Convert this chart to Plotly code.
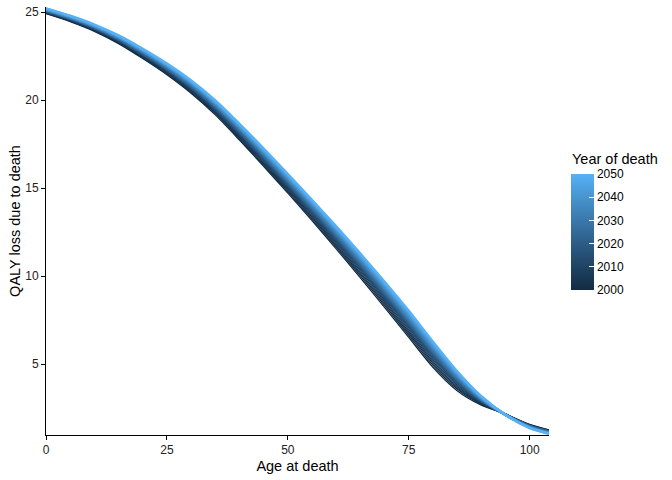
import plotly.graph_objects as go
from plotly.colors import sample_colorscale

# ---------------- data ----------------
ages = [0, 5, 10, 15, 20, 25, 30, 35, 40, 45, 50, 55, 60, 65, 70, 75, 80, 85, 90, 95, 100, 104]

qaly_2000 = [24.92, 24.47, 23.92, 23.22, 22.37, 21.45, 20.40, 19.17, 17.74, 16.25, 14.72, 13.16, 11.56, 9.91, 8.23, 6.53, 4.83, 3.50, 2.68, 2.17, 1.58, 1.27]
qaly_2002 = [24.94, 24.50, 23.95, 23.26, 22.41, 21.50, 20.46, 19.24, 17.81, 16.33, 14.81, 13.25, 11.66, 10.02, 8.35, 6.65, 4.95, 3.59, 2.72, 2.17, 1.56, 1.25]
qaly_2004 = [24.97, 24.52, 23.98, 23.29, 22.45, 21.54, 20.51, 19.29, 17.88, 16.40, 14.88, 13.34, 11.75, 10.12, 8.45, 6.76, 5.05, 3.67, 2.76, 2.16, 1.55, 1.24]
qaly_2006 = [24.99, 24.54, 24.00, 23.32, 22.49, 21.59, 20.56, 19.35, 17.94, 16.47, 14.96, 13.42, 11.84, 10.21, 8.55, 6.86, 5.15, 3.74, 2.79, 2.16, 1.54, 1.22]
qaly_2008 = [25.01, 24.57, 24.03, 23.35, 22.53, 21.63, 20.61, 19.41, 18.01, 16.54, 15.03, 13.50, 11.93, 10.31, 8.65, 6.97, 5.25, 3.82, 2.83, 2.16, 1.52, 1.21]
qaly_2010 = [25.03, 24.59, 24.06, 23.39, 22.57, 21.68, 20.66, 19.47, 18.07, 16.61, 15.11, 13.58, 12.02, 10.40, 8.75, 7.07, 5.35, 3.90, 2.86, 2.15, 1.51, 1.19]
qaly_2015 = [25.05, 24.62, 24.09, 23.42, 22.61, 21.73, 20.72, 19.53, 18.15, 16.69, 15.20, 13.68, 12.12, 10.51, 8.87, 7.19, 5.47, 3.98, 2.90, 2.15, 1.49, 1.17]
qaly_2020 = [25.08, 24.64, 24.12, 23.46, 22.66, 21.78, 20.77, 19.60, 18.22, 16.77, 15.28, 13.77, 12.22, 10.62, 8.98, 7.31, 5.58, 4.07, 2.94, 2.14, 1.48, 1.16]
qaly_2025 = [25.10, 24.67, 24.15, 23.50, 22.70, 21.83, 20.83, 19.66, 18.29, 16.85, 15.37, 13.86, 12.32, 10.73, 9.10, 7.43, 5.70, 4.16, 2.98, 2.14, 1.46, 1.14]
qaly_2030 = [25.12, 24.69, 24.18, 23.53, 22.74, 21.88, 20.89, 19.73, 18.37, 16.93, 15.45, 13.96, 12.42, 10.84, 9.22, 7.55, 5.82, 4.25, 3.02, 2.14, 1.44, 1.12]
qaly_2035 = [25.15, 24.72, 24.21, 23.57, 22.79, 21.93, 20.95, 19.79, 18.44, 17.01, 15.54, 14.05, 12.53, 10.95, 9.33, 7.67, 5.93, 4.34, 3.06, 2.13, 1.43, 1.10]
qaly_2040 = [25.17, 24.75, 24.24, 23.61, 22.83, 21.98, 21.01, 19.86, 18.51, 17.09, 15.63, 14.14, 12.63, 11.06, 9.45, 7.79, 6.05, 4.42, 3.10, 2.13, 1.41, 1.09]
qaly_2045 = [25.20, 24.77, 24.27, 23.64, 22.88, 22.03, 21.06, 19.92, 18.59, 17.17, 15.71, 14.24, 12.73, 11.17, 9.56, 7.91, 6.16, 4.51, 3.14, 2.12, 1.40, 1.07]
qaly_2050 = [25.22, 24.80, 24.30, 23.68, 22.92, 22.08, 21.12, 19.99, 18.66, 17.25, 15.80, 14.33, 12.83, 11.28, 9.68, 8.03, 6.28, 4.60, 3.18, 2.12, 1.38, 1.05]

years = [2000, 2002, 2004, 2006, 2008, 2010, 2015, 2020, 2025, 2030, 2035, 2040, 2045, 2050]
series = [qaly_2000, qaly_2002, qaly_2004, qaly_2006, qaly_2008, qaly_2010, qaly_2015,
          qaly_2020, qaly_2025, qaly_2030, qaly_2035, qaly_2040, qaly_2045, qaly_2050]

x_ticks = [0, 25, 50, 75, 100]
y_ticks = [5, 10, 15, 20, 25]
legend_ticks = [2000, 2010, 2020, 2030, 2040, 2050]

# ---------------- style ----------------
colorscale = [[0.0, "#132B43"], [0.25, "#22496C"], [0.5, "#336A98"], [0.75, "#448DC6"], [1.0, "#56B1F7"]]
ymin, ymax = 2000, 2050
FONT = "Liberation Sans, Arial, sans-serif"

# plot panel in pixels (figure coordinates)
PL, PR, PT, PB = 46, 549, 7, 435
W, H = 672, 480


def px_x(px):
    return (px - PL) / (PR - PL)


def px_y(py):
    return (PB - py) / (PB - PT)


fig = go.Figure()
for yr, vals in zip(years, series):
    col = sample_colorscale(colorscale, [(yr - ymin) / (ymax - ymin)])[0]
    fig.add_trace(go.Scatter(
        x=ages, y=vals, mode="lines",
        line=dict(color=col, width=(1.3 if yr < 2015 else 2.6), shape="spline", smoothing=0.8),
        showlegend=False, hoverinfo="skip"))

# colour bar carrier
fig.add_trace(go.Scatter(
    x=[50, 50], y=[-100, -100], mode="markers", showlegend=False, hoverinfo="skip",
    marker=dict(size=0.1, color=[ymin, ymax], cmin=ymin, cmax=ymax, colorscale=colorscale,
                showscale=True,
                colorbar=dict(
                    tickvals=legend_ticks, ticktext=[str(t) for t in legend_ticks],
                    ticks="inside", ticklen=5, tickcolor="white", tickwidth=1,
                    tickfont=dict(family=FONT, size=12, color="black"),
                    outlinewidth=0, thicknessmode="pixels", thickness=23,
                    lenmode="pixels", len=116,
                    x=px_x(571), xanchor="left", xpad=0,
                    y=px_y(232), yanchor="middle", ypad=0))))

fig.add_annotation(text="Year of death", xref="paper", yref="paper",
                   x=px_x(570), y=px_y(159), xanchor="left", yanchor="middle",
                   showarrow=False, font=dict(family=FONT, size=14.5, color="black"))

fig.update_layout(
    width=W, height=H,
    margin=dict(l=PL, r=W - PR, t=PT, b=H - PB, autoexpand=False),
    paper_bgcolor="white", plot_bgcolor="white",
    font=dict(family=FONT, color="black"),
    xaxis=dict(range=[0, 104], tickvals=x_ticks, showgrid=False, zeroline=False,
               showline=True, linecolor="black", linewidth=1,
               ticks="outside", ticklen=4, tickcolor="black", tickwidth=1,
               tickfont=dict(family=FONT, size=12, color="#222"),
               title=dict(text="Age at death", font=dict(family=FONT, size=14.5, color="black"), standoff=4)),
    yaxis=dict(range=[0.98, 25.3], tickvals=y_ticks, showgrid=False, zeroline=False,
               showline=True, linecolor="black", linewidth=1,
               ticks="outside", ticklen=4, tickcolor="black", tickwidth=1,
               tickfont=dict(family=FONT, size=12, color="#222"),
               title=dict(text="QALY loss due to death", font=dict(family=FONT, size=14.5, color="black"), standoff=1)),
)

fig.write_html("out.html", config={"displayModeBar": False},
               post_script="document.body.style.margin='0';document.body.style.overflow='hidden';")
